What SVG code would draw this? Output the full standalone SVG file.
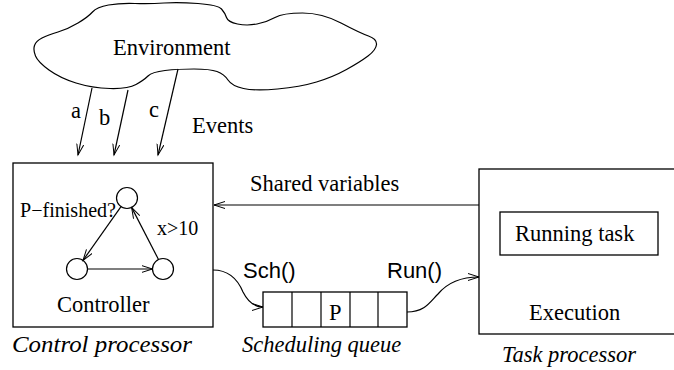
<svg xmlns="http://www.w3.org/2000/svg" width="674" height="370" viewBox="0 0 674 370">
<defs>
<marker id="arr" markerUnits="userSpaceOnUse" markerWidth="14" markerHeight="10" refX="11" refY="4" orient="auto">
<path d="M0,0.5 L11,4 L0,7.5" fill="none" stroke="#000" stroke-width="1"/>
</marker>
<style>
.ln{fill:none;stroke:#000;stroke-width:1.2}
.box{fill:#fff;stroke:#000;stroke-width:1.3}
.t{font-family:"Liberation Serif","Times New Roman",serif;font-size:22.5px;fill:#000}
.sm{font-size:20px}
.it{font-family:"Liberation Serif","Times New Roman",serif;font-size:22.5px;font-style:italic;fill:#000}
.s{font-family:"Liberation Sans",Arial,sans-serif;font-size:22px;fill:#000}
</style>
</defs>
<rect width="674" height="370" fill="#fff"/>

<g id="environment">
<path class="ln" d="M35.5,56 Q33,50 34.5,45.5 Q36,41 42,38 Q48,35 58,32 Q68,29 78,23 Q88,17 92.5,12 Q97,7 108.5,5 Q120,3 135,3.5 Q150,4 164,3 Q178,2 198,3.5 Q218,5 221.5,9 Q225,13 226.5,17.5 Q228,22 237.5,24 Q247,26 257,24 Q267,22 275,17.5 Q283,13 302.5,13 Q322,13 341,23 Q360,33 368.5,36 Q377,39 376.5,44.5 Q376,50 368,56 Q360,62 346.5,69.5 Q333,77 316.5,82 Q300,87 277.5,89 Q255,91 243.5,88.5 Q232,86 228,80 Q224,74 217,71.5 Q210,69 194,69 Q178,69 165,70.5 Q152,72 148,76 Q144,80 136,84.5 Q128,89 110,88.5 Q92,88 76,83 Q60,78 49,70 Q38,62 35.5,56 Z"/>
<text class="t" x="113" y="55">Environment</text>
</g>

<g id="control-processor">
<rect class="box" x="13" y="163" width="200" height="164"/>
<circle class="ln" cx="127" cy="198" r="10.5"/>
<circle class="ln" cx="77" cy="269" r="10.5"/>
<circle class="ln" cx="163" cy="269" r="10.5"/>
<line class="ln" x1="121" y1="206.6" x2="83" y2="260.4" marker-end="url(#arr)"/>
<line class="ln" x1="87.5" y1="269" x2="152.5" y2="269" marker-end="url(#arr)"/>
<line class="ln" x1="158.5" y1="259.5" x2="131.6" y2="207.4" marker-end="url(#arr)"/>
<text class="t sm" x="20" y="217" textLength="96" lengthAdjust="spacingAndGlyphs">P−finished?</text>
<text class="t sm" x="157" y="235">x&gt;10</text>
<text class="t" x="57" y="312">Controller</text>
<text class="it" x="12" y="352" textLength="180" lengthAdjust="spacingAndGlyphs">Control processor</text>
</g>

<g id="scheduling-queue">
<rect class="box" x="263" y="292" width="144" height="35"/>
<line class="ln" x1="292" y1="292" x2="292" y2="327"/>
<line class="ln" x1="321" y1="292" x2="321" y2="327"/>
<line class="ln" x1="350" y1="292" x2="350" y2="327"/>
<line class="ln" x1="378" y1="292" x2="378" y2="327"/>
<text class="t" x="329" y="320">P</text>
<text class="it" x="242" y="352">Scheduling queue</text>
</g>

<g id="task-processor">
<rect class="box" x="479" y="169" width="205" height="165"/>
<rect class="box" x="500" y="212" width="158" height="43"/>
<text class="t" x="515" y="241">Running task</text>
<text class="t" x="529" y="320">Execution</text>
<text class="it" x="502" y="362">Task processor</text>
</g>

<g id="connectors">
<line class="ln" x1="92" y1="88" x2="78" y2="155" marker-end="url(#arr)"/>
<line class="ln" x1="128" y1="90" x2="114" y2="155" marker-end="url(#arr)"/>
<line class="ln" x1="178" y1="69" x2="158" y2="155" marker-end="url(#arr)"/>
<text class="t" x="71" y="118">a</text>
<text class="t" x="99" y="125">b</text>
<text class="t" x="149" y="117">c</text>
<text class="t" x="192" y="133">Events</text>
<line class="ln" x1="479" y1="205" x2="214" y2="205" marker-end="url(#arr)"/>
<text class="t" x="250" y="191">Shared variables</text>
<path class="ln" d="M213,270 C230,270 238,280 243,292 C248,302 254,307 263,307" marker-end="url(#arr)"/>
<text class="s" x="243" y="278">Sch()</text>
<path class="ln" d="M407,312 C425,312 430,302 438,294 C448,282 462,277 479,277" marker-end="url(#arr)"/>
<text class="s" x="387" y="278">Run()</text>
</g>
</svg>
